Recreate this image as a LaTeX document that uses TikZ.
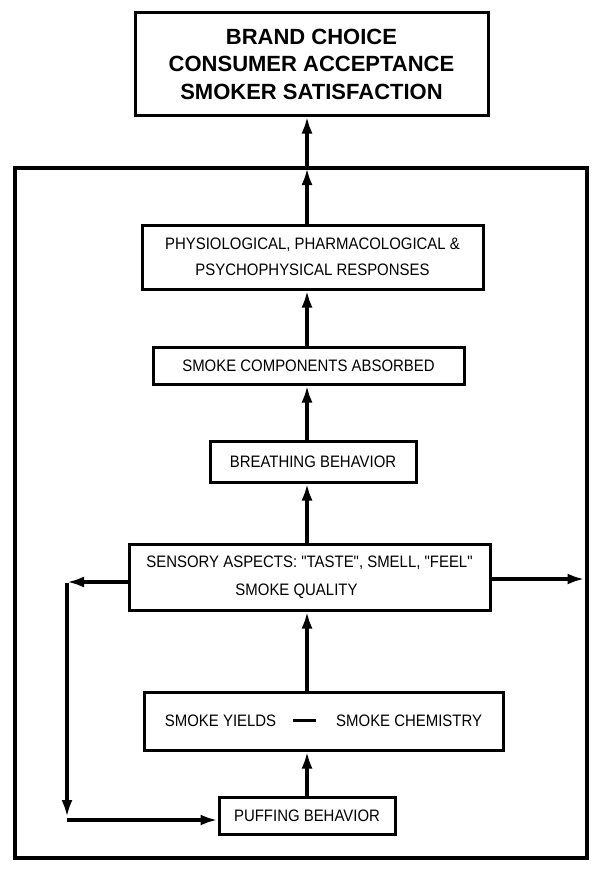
\documentclass[tikz,border=0pt]{standalone}
\usepackage{fontspec}
\setmainfont{Liberation Sans}
\newfontfamily\condfont{Liberation Sans}[FakeStretch=0.9]
\newcommand\myquote{\char34\relax}
\usetikzlibrary{arrows.meta}
\begin{document}
\begin{tikzpicture}[x=1pt,y=-1pt,
  box/.style={draw, line width=3pt, inner sep=0pt, align=center,
    font=\condfont\fontsize{16.6}{26}\selectfont},
  conn/.style={line width=3.5pt, -{Latex[length=17pt,width=11pt]}},
]
\useasboundingbox[fill=white] (0,0) rectangle (601,875);
\coordinate (sp) at (307,0);
% outer frame
\node[draw, line width=4.5pt, outer sep=0pt, minimum width=572pt, minimum height=690pt] (frame) at (301,513) {};
% top box
\node[box, minimum width=353pt, minimum height=102pt,
  font=\fontsize{22}{27.5}\selectfont\bfseries] (top) at (311.5,64)
  {BRAND CHOICE\\CONSUMER ACCEPTANCE\\SMOKER SATISFACTION};
\node[box, minimum width=341pt, minimum height=64pt] (phys) at (312.5,257)
  {PHYSIOLOGICAL, PHARMACOLOGICAL \&\\PSYCHOPHYSICAL RESPONSES};
\node[box, minimum width=311pt, minimum height=37pt] (comp) at (308.5,365.5)
  {SMOKE COMPONENTS ABSORBED};
\node[box, minimum width=206pt, minimum height=41pt] (breath) at (313,461.5)
  {BREATHING BEHAVIOR};
\node[box, minimum width=361pt, minimum height=66pt, font=\condfont\fontsize{16.6}{28}\selectfont] (sens) at (309.5,577)
  {SENSORY ASPECTS: \myquote TASTE\myquote, SMELL, \myquote FEEL\myquote\\\hspace*{-26pt}SMOKE QUALITY};
\node[box, minimum width=359pt, minimum height=58pt] (yields) at (323.5,721)
  {SMOKE YIELDS\hspace{17pt}\rule[5pt]{23pt}{3pt}\hspace{20pt}SMOKE CHEMISTRY};
\node[box, minimum width=176pt, minimum height=37pt] (puff) at (307,815.5)
  {PUFFING BEHAVIOR};
% vertical chain
\draw[conn] (sp |- puff.north) -- (sp |- yields.south);
\draw[conn] (sp |- yields.north) -- (sp |- sens.south);
\draw[conn] (sp |- sens.north) -- (sp |- breath.south);
\draw[conn] (sp |- breath.north) -- (sp |- comp.south);
\draw[conn] (sp |- comp.north) -- (sp |- phys.south);
\draw[conn] (sp |- phys.north) -- (sp |- frame.north);
\draw[conn] (sp |- frame.north) -- (sp |- top.south);
% feedback loops
\coordinate (lc) at (67,582);
\coordinate (lb) at (67,820);
\coordinate (rc) at (0,579);
\draw[conn] (sens.west |- lc) -- (lc);
\draw[conn, shorten >=3pt] ([yshift=-1pt]lc) -- (lb);
\draw[conn] (lb) -- (puff.west |- lb);
\draw[conn, shorten >=2.5pt] (sens.east |- rc) -- (frame.east |- rc);
\end{tikzpicture}
\end{document}
